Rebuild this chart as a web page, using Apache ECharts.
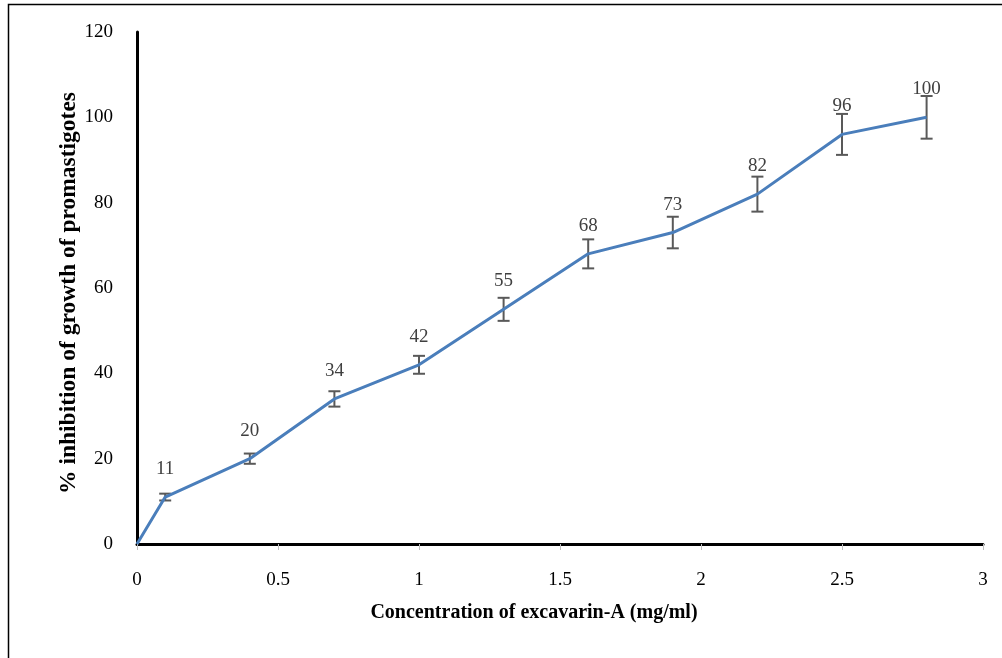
<!DOCTYPE html>
<html>
<head>
<meta charset="utf-8">
<script src="https://cdn.jsdelivr.net/npm/echarts@6/dist/echarts.min.js"></script>
<style>html,body{margin:0;padding:0;background:#fff;}#c{width:1002px;height:658px;}</style>
</head>
<body>
<div id="c"></div>
<script>
var concentrations = [0, 0.1, 0.4, 0.7, 1.0, 1.3, 1.6, 1.9, 2.2, 2.5, 2.8];
var inhibition = [0, 11, 20, 34, 42, 55, 68, 73, 82, 96, 100];
var errors = [0, 0.8, 1.2, 1.8, 2.1, 2.7, 3.4, 3.7, 4.1, 4.8, 5.0];
var pointLabels = ['', '11', '20', '34', '42', '55', '68', '73', '82', '96', '100'];
var xTicks = {min: 0, max: 3, interval: 0.5};
var yTicks = {min: 0, max: 120, interval: 20};

var lineData = concentrations.map(function (x, i) { return [x, inhibition[i]]; });
var errData = concentrations.map(function (x, i) { return [x, inhibition[i] - errors[i], inhibition[i] + errors[i]]; })
  .filter(function (d, i) { return errors[i] > 0; });

var chart = echarts.init(document.getElementById('c'));
var serif = 'Liberation Serif, Times New Roman, serif';
chart.setOption({
  animation: false,
  backgroundColor: '#fff',
  textStyle: {fontFamily: serif},
  graphic: [{
    type: 'rect', silent: true, z: -10,
    shape: {x: 8.5, y: 4.5, width: 1200, height: 1000},
    style: {fill: 'none', stroke: '#000', lineWidth: 1.5}
  }],
  grid: {left: 137, top: 32, right: 19, bottom: 114, containLabel: false},
  xAxis: {
    type: 'value', min: xTicks.min, max: xTicks.max, interval: xTicks.interval,
    name: 'Concentration of excavarin-A (mg/ml)', nameLocation: 'middle', nameGap: 59,
    nameMoveOverlap: false,
    nameTextStyle: {fontFamily: serif, fontWeight: 'bold', fontSize: 20, color: '#000', padding: [0, 52, 0, 0]},
    axisLine: {show: true, lineStyle: {color: '#000', width: 3}},
    axisTick: {show: true, length: 6, lineStyle: {color: '#bfbfbf', width: 1}},
    axisLabel: {fontFamily: serif, fontSize: 19, color: '#000', margin: 27},
    splitLine: {show: false}
  },
  yAxis: {
    type: 'value', min: yTicks.min, max: yTicks.max, interval: yTicks.interval,
    name: '% inhibition of growth of promastigotes', nameLocation: 'middle', nameGap: 56, nameRotate: 90,
    nameMoveOverlap: false,
    nameTextStyle: {fontFamily: serif, fontWeight: 'bold', fontSize: 23.5, color: '#000', padding: [0, 10, 0, 0]},
    axisLine: {show: true, lineStyle: {color: '#000', width: 3}},
    axisTick: {show: false},
    axisLabel: {fontFamily: serif, fontSize: 19, color: '#000', margin: 24},
    splitLine: {show: false}
  },
  series: [{
    type: 'custom',
    z: 1,
    data: errData,
    renderItem: function (params, api) {
      var x = api.value(0);
      var lo = api.coord([x, api.value(1)]);
      var hi = api.coord([x, api.value(2)]);
      var hw = 6;
      var st = {stroke: '#595959', lineWidth: 2, fill: 'none'};
      return {type: 'group', children: [
        {type: 'line', shape: {x1: lo[0], y1: lo[1], x2: hi[0], y2: hi[1]}, style: st},
        {type: 'line', shape: {x1: lo[0] - hw, y1: lo[1], x2: lo[0] + hw, y2: lo[1]}, style: st},
        {type: 'line', shape: {x1: hi[0] - hw, y1: hi[1], x2: hi[0] + hw, y2: hi[1]}, style: st}
      ]};
    }
  }, {
    type: 'line',
    z: 2,
    data: lineData,
    symbol: 'circle',
    symbolSize: 1,
    showSymbol: true,
    itemStyle: {color: 'rgba(0,0,0,0)'},
    lineStyle: {color: '#4A7EBB', width: 3},
    labelLayout: {hideOverlap: false},
    label: {
      show: true, position: 'top', distance: 18,
      fontFamily: serif, fontSize: 19, color: '#404040',
      formatter: function (p) { return pointLabels[p.dataIndex]; }
    }
  }]
});
</script>
</body>
</html>
